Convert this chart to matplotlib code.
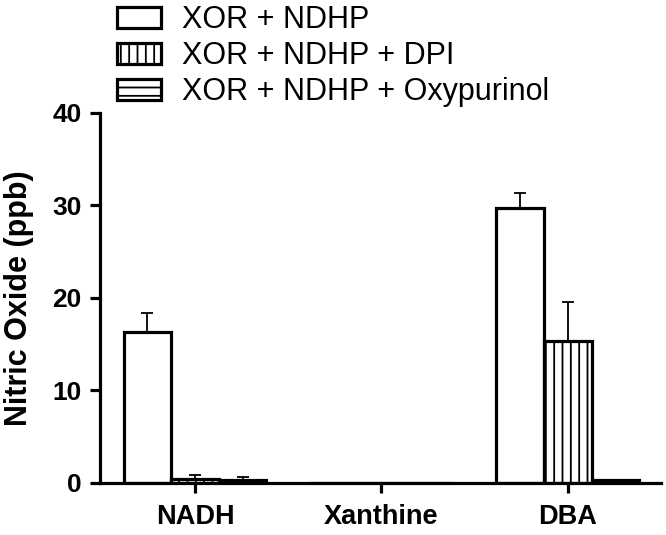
import numpy as np
import matplotlib
matplotlib.use("Agg")
import matplotlib.pyplot as plt

plt.rcParams['font.family'] = ['Liberation Sans', 'DejaVu Sans']
plt.rcParams['hatch.linewidth'] = 1.3

groups = ['NADH', 'Xanthine', 'DBA']
series = ['XOR + NDHP', 'XOR + NDHP + DPI', 'XOR + NDHP + Oxypurinol']
means = [
    [16.3, 0.0, 29.7],   # XOR + NDHP
    [0.4, 0.0, 15.3],    # + DPI
    [0.35, 0.0, 0.3],    # + Oxypurinol
]
errs = [
    [2.1, 0.0, 1.65],
    [0.5, 0.0, 4.3],
    [0.3, 0.0, 0.0],
]
hatches = ['', '||', '--']

fig = plt.figure(figsize=(6.66, 5.35), dpi=100)
ax = fig.add_axes([0.150, 0.0972, 0.8425, 0.6916])

x = np.arange(len(groups))
w = 0.255
lw = 2.3
for i, (m, e, h) in enumerate(zip(means, errs, hatches)):
    pos = x + (i - 1) * w
    ax.bar(pos, m, width=w, facecolor='white', edgecolor='black',
           linewidth=lw, hatch=h, label=series[i], zorder=2)
    ax.errorbar(pos, m, yerr=[np.zeros(len(e)), e], fmt='none',
                ecolor='black', elinewidth=1.3, capsize=4.5,
                capthick=1.3, zorder=3)

ax.set_xlim(-0.51, 2.5)
ax.set_ylim(0, 40)
ax.set_yticks([0, 10, 20, 30, 40])
ax.set_xticks(x)
ax.set_xticklabels(groups, fontsize=19.5, fontweight='bold')
for lab in ax.get_yticklabels():
    lab.set_fontsize(19)
    lab.set_fontweight('bold')
ax.set_ylabel('Nitric Oxide (ppb)', fontsize=22, fontweight='bold', labelpad=13)

for s in ['top', 'right']:
    ax.spines[s].set_visible(False)
for s in ['left', 'bottom']:
    ax.spines[s].set_linewidth(lw)
ax.tick_params(axis='both', length=7, width=lw, pad=6)
ax.tick_params(axis='x', pad=8)

fig.legend(loc='upper left', bbox_to_anchor=(0.157, 1.013), frameon=False,
           fontsize=22, handlelength=1.45, handleheight=0.7,
           handletextpad=0.7, labelspacing=0.2, borderaxespad=0)

fig.savefig('out.png', dpi=100)
